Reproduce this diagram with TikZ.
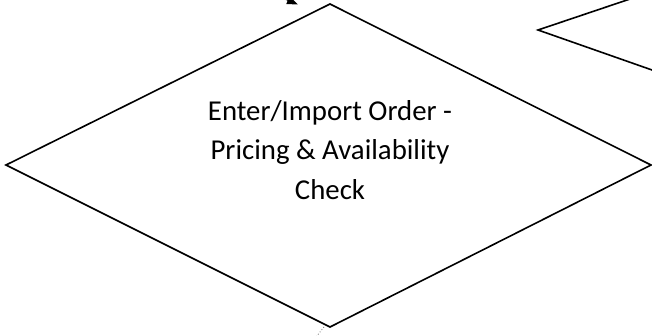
\documentclass[tikz,border=0pt]{standalone}
\usepackage{fontspec}
\setmainfont{Carlito}
\usetikzlibrary{arrows.meta,calc}
\begin{document}
\begin{tikzpicture}[x=1pt,y=-1pt,
  edge/.style={line width=1.6pt,line join=miter},
  label/.style={align=center,inner sep=0pt,font=\fontsize{28.8}{39.5}\selectfont}]
\useasboundingbox (0,0) rectangle (652,335);
\begin{scope}
\clip (0,0) rectangle (652,335);
% main diamond
\coordinate (t) at (330,4);
\coordinate (r) at (651,165);
\coordinate (b) at (330,327);
\coordinate (l) at (6,165);
\draw[edge] (t) -- (r) -- (b) -- (l) -- cycle;
% partial diamond at top right
\coordinate (d2l) at (538,30);
\coordinate (d2t) at (627,0);
\coordinate (d2b) at (652,70);
\draw[edge] ($(d2t)!-0.2!(d2l)$) -- (d2l) -- ($(d2l)!1.2!(d2b)$);
% arrow into top
\coordinate (a0) at (250,-16);
\coordinate (a1) at (298,4.5);
\draw[line width=1.2pt,-{Triangle[length=11pt,width=8pt]}] (a0) -- (a1);
% dotted stub at bottom
\coordinate (s0) at (324,327);
\coordinate (s1) at (316,337);
\draw[line width=0.9pt,dotted,gray] (s0) -- (s1);
\end{scope}
\node[label,anchor=base] (txt) at (330,199) {Enter/Import Order -\\Pricing \& Availability\\Check};
\end{tikzpicture}
\end{document}
